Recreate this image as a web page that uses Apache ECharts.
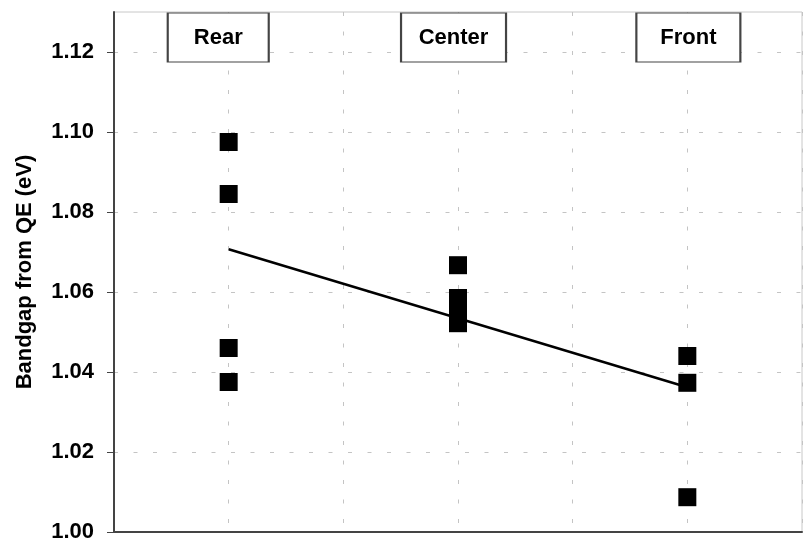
<!DOCTYPE html>
<html>
<head>
<meta charset="utf-8">
<title>Bandgap from QE</title>
<script src="https://cdn.jsdelivr.net/npm/echarts@6/dist/echarts.min.js"></script>
<style>
  html, body { margin: 0; padding: 0; background: #fff; }
  #chart { width: 803px; height: 550px; }
</style>
</head>
<body>
<div id="chart"></div>
<script>
// Sample positions along the x axis
const positionNames = ['Rear', 'Center', 'Front'];
const positionX = [1, 3, 5];

// Bandgap measurements (eV) at each position
const rearValues = [1.0975, 1.0845, 1.0460, 1.0375];
const centerValues = [1.0667, 1.0585, 1.0555, 1.0540, 1.0522];
const frontValues = [1.0440, 1.0373, 1.0087];

// Linear trend through all measurements (end points)
const trendX = [1, 5];
const trendY = [1.0707, 1.0362];

// Y axis tick labels
const yTicks = [1.00, 1.02, 1.04, 1.06, 1.08, 1.10, 1.12];

// Caption boxes above each group
const captionX = [0.909, 2.961, 5.009];
const captionY = 1.1236;
const captionWidths = [101, 105, 104];

const FONT = '"Liberation Sans", Arial, Helvetica, sans-serif';

const groups = [rearValues, centerValues, frontValues];
const points = [];
groups.forEach((vals, gi) => {
  vals.forEach(v => points.push([positionX[gi], v]));
});

const chart = echarts.init(document.getElementById('chart'), null, { renderer: 'canvas' });

const gridLine = {
  show: true,
  lineStyle: { color: '#c4c4c4', width: 1, type: [4, 15.5] }
};

chart.setOption({
  animation: false,
  backgroundColor: '#ffffff',
  grid: {
    left: 114, top: 12, right: 1, bottom: 18,
    show: true, borderColor: '#c8c8c8', borderWidth: 1,
    containLabel: false
  },
  xAxis: {
    type: 'value',
    min: 0, max: 6, interval: 1,
    axisLine: { show: true, onZero: false, lineStyle: { color: '#444', width: 2 } },
    axisTick: { show: false },
    axisLabel: { show: false },
    splitLine: gridLine
  },
  yAxis: {
    type: 'value',
    min: 1.00, max: 1.13, interval: 0.02,
    name: 'Bandgap from QE (eV)',
    nameLocation: 'middle',
    nameGap: 78,
    nameTextStyle: { fontFamily: FONT, fontSize: 22, fontWeight: 'bold', color: '#000' },
    axisLine: { show: true, onZero: false, lineStyle: { color: '#444', width: 2 } },
    axisTick: {
      show: true, inside: false, length: 7,
      customValues: yTicks,
      lineStyle: { color: '#444', width: 1 }
    },
    axisLabel: {
      show: true, margin: 20,
      customValues: yTicks,
      fontFamily: FONT, fontSize: 22, fontWeight: 'bold', color: '#000',
      formatter: v => v.toFixed(2)
    },
    splitLine: gridLine
  },
  series: [
    {
      name: 'Trend',
      type: 'line',
      data: trendX.map((x, i) => [x, trendY[i]]),
      symbol: 'none',
      lineStyle: { color: '#000', width: 2.5 },
      z: 3
    },
    {
      name: 'Bandgap',
      type: 'scatter',
      data: points,
      symbol: 'rect',
      symbolSize: 18,
      itemStyle: { color: '#000', borderWidth: 0, opacity: 1 },
      z: 4
    },
    {
      name: 'Captions',
      type: 'scatter',
      data: positionNames.map((n, i) => ({
        value: [captionX[i], captionY],
        name: n,
        symbolSize: [captionWidths[i], 49]
      })),
      symbol: 'rect',
      itemStyle: { color: '#fff', borderColor: '#444', borderWidth: 1.5, opacity: 1 },
      label: {
        show: true,
        position: 'inside',
        formatter: p => p.name,
        opacity: 1,
        fontFamily: FONT, fontSize: 22, fontWeight: 'bold', color: '#000'
      },
      silent: true,
      z: 5
    }
  ]
});
</script>
</body>
</html>
